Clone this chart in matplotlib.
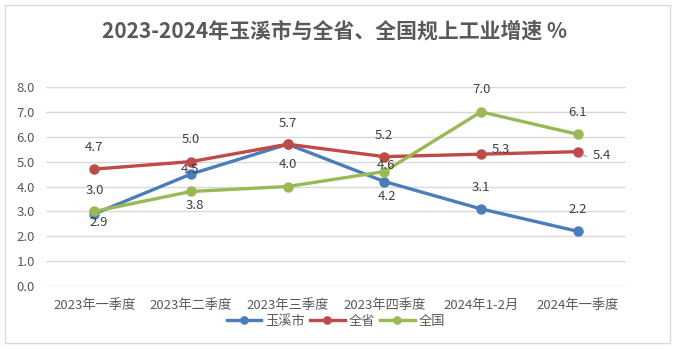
import numpy as np
import matplotlib.pyplot as plt
from matplotlib.patches import Rectangle

plt.rcParams['font.family'] = ['Noto Sans CJK SC', 'DejaVu Sans']

categories = ["2023年一季度", "2023年二季度", "2023年三季度", "2023年四季度", "2024年1-2月", "2024年一季度"]
yuxi = [2.9, 4.5, 5.7, 4.2, 3.1, 2.2]
province = [4.7, 5.0, 5.7, 5.2, 5.3, 5.4]
nation = [3.0, 3.8, 4.0, 4.6, 7.0, 6.1]

# label offsets in pixels (dx, dy) for each point; None = no label (shared with 全省)
yuxi_off = [(4, -9), (-1, 5), None, (3, -15), (0, 21), (0, 22)]
province_off = [(0, 22), (0, 22), (0, 21), (0, 21), (20, 5), (24, -4)]
nation_off = [(0, 21), (4, -14), (0, 22), (2, 6), (0, 22), (0, 22)]

text_gray = '#595959'
fig = plt.figure(figsize=(6.76, 3.49), dpi=100)
fig.patches.append(Rectangle((5 / 676, 6 / 349), 665 / 676, 338 / 349, transform=fig.transFigure,
                             fill=False, edgecolor='#d9d9d9', linewidth=1))
ax = fig.add_axes([46 / 676, 63 / 349, 580 / 676, 199 / 349])

x = np.arange(len(categories))
series = [
    (yuxi, '#4a7ebb', '玉溪市', yuxi_off),
    (province, '#be4b48', '全省', province_off),
    (nation, '#98b954', '全国', nation_off),
]
for vals, col, name, offs in series:
    ax.plot(x, vals, color=col, linewidth=2.4, marker='o', markersize=6.5, label=name, zorder=3)
    for xi, v, off in zip(x, vals, offs):
        if off is None:
            continue
        ax.annotate(f"{v:.1f}", (xi, v), xytext=off, textcoords='offset pixels',
                    ha='center', va='center', fontsize=9.5, color='#404040', zorder=4)

# leader line for the last provincial label
ax.annotate("", (x[-1], province[-1]), xytext=(9, -5), textcoords='offset pixels',
            arrowprops=dict(arrowstyle='-', color='#a6a6a6', lw=0.8, shrinkA=0, shrinkB=4))

ax.set_xlim(-0.5, len(categories) - 0.5)
ax.set_ylim(0, 8)
ax.set_yticks(np.arange(0, 8.1, 1.0))
ax.set_yticklabels([f"{t:.1f}" for t in np.arange(0, 8.1, 1.0)])
ax.set_xticks(x)
ax.set_xticklabels(categories)
ax.tick_params(axis='both', length=0, labelsize=9.5, labelcolor=text_gray)
ax.tick_params(axis='x', pad=9)
ax.tick_params(axis='y', pad=8)
ax.grid(axis='y', color='#d9d9d9', linewidth=1)
ax.set_axisbelow(True)
for s in ax.spines.values():
    s.set_visible(False)

fig.suptitle("2023-2024年玉溪市与全省、全国规上工业增速 %", x=335 / 676, y=1 - 31 / 349, va='center',
             fontsize=15, fontweight='bold', color=text_gray)

ax.legend(loc='center', bbox_to_anchor=(336 / 676, 1 - 321 / 349), bbox_transform=fig.transFigure,
          ncol=3, frameon=False, fontsize=9.5, handlelength=2.6, handletextpad=0.3, columnspacing=0.4,
          labelcolor=text_gray, markerscale=0.8)

fig.savefig('out.png', dpi=100)
